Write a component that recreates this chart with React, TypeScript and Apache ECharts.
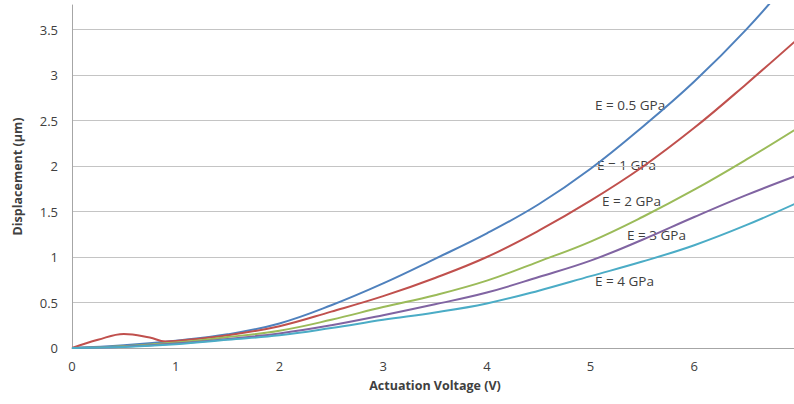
import React, { useEffect, useRef } from "react";
import * as echarts from "echarts";

const voltage = [0, 0.5, 1, 1.5, 2, 2.5, 3, 3.5, 4, 4.5, 5, 5.5, 6, 6.5, 7];
const redVoltage = [0, 0.25, 0.5, 0.75, 0.9, 1, 1.5, 2, 2.5, 3, 3.5, 4, 4.5, 5, 5.5, 6, 6.5, 7];

const e05 = [0, 0.03, 0.08, 0.15, 0.27, 0.47, 0.71, 0.98, 1.26, 1.58, 1.97, 2.43, 2.93, 3.5, 4.15];
const e1 = [0, 0.09, 0.155, 0.115, 0.072, 0.077, 0.14, 0.24, 0.4, 0.57, 0.77, 1.0, 1.29, 1.62, 1.99, 2.42, 2.9, 3.4];
const e2 = [0, 0.02, 0.06, 0.12, 0.19, 0.31, 0.45, 0.58, 0.74, 0.95, 1.17, 1.44, 1.74, 2.07, 2.42];
const e3 = [0, 0.015, 0.05, 0.1, 0.16, 0.25, 0.36, 0.48, 0.61, 0.78, 0.96, 1.19, 1.44, 1.68, 1.9];
const e4 = [0, 0.01, 0.04, 0.09, 0.14, 0.22, 0.31, 0.39, 0.49, 0.63, 0.79, 0.95, 1.13, 1.35, 1.6];

const yTicks = [0, 0.5, 1, 1.5, 2, 2.5, 3, 3.5];
const seriesNames = ["E = 0.5 GPa", "E = 1 GPa", "E = 2 GPa", "E = 3 GPa", "E = 4 GPa"];
const colors = ["#4F81BD", "#C0504D", "#9BBB59", "#8064A2", "#4BACC6"];

const pair = (xs: number[], ys: number[]) => xs.map((x, i) => [x, ys[i]]);

export default function App() {
  const ref = useRef<HTMLDivElement>(null);
  useEffect(() => {
    document.body.style.margin = "0";
    const chart = echarts.init(ref.current!, null, { renderer: "svg" });
    const font = "'Open Sans', 'Liberation Sans', sans-serif";
    const seriesData = [
      pair(voltage, e05),
      pair(redVoltage, e1),
      pair(voltage, e2),
      pair(voltage, e3),
      pair(voltage, e4),
    ];
    const labelPos = [
      [595, 98],
      [597, 158],
      [602, 194],
      [627, 228],
      [595, 274],
    ];
    chart.setOption({
      animation: false,
      backgroundColor: "#ffffff",
      grid: { left: 72, right: -4, top: 5, bottom: 56, outerBoundsMode: "none", containLabel: false },
      xAxis: {
        type: "value",
        min: 0,
        max: 7,
        interval: 1,
        name: "Actuation Voltage (V)",
        nameLocation: "middle",
        nameGap: 31,
        nameTextStyle: { fontFamily: font, fontSize: 12.5, fontWeight: "bold", color: "#404040" },
        axisLine: { show: true, lineStyle: { color: "#a6a6a6", width: 1 } },
        axisTick: { show: false },
        splitLine: { show: false },
        axisLabel: { fontFamily: font, fontSize: 13, color: "#404040", margin: 11, hideOverlap: false },
      },
      yAxis: {
        type: "value",
        min: 0,
        max: 3.77,
        name: "Displacement (µm)",
        nameLocation: "middle",
        nameGap: 48,
        nameTextStyle: { fontFamily: font, fontSize: 12.5, fontWeight: "bold", color: "#404040" },
        axisLine: { show: true, lineStyle: { color: "#a6a6a6", width: 1 } },
        axisTick: { show: false, customValues: yTicks },
        splitLine: { show: true, lineStyle: { color: "#c4c4c4", width: 1 } },
        axisLabel: {
          fontFamily: font,
          fontSize: 13,
          color: "#404040",
          margin: 14,
          customValues: yTicks,
        },
      },
      series: seriesData.map((d, i) => ({
        name: seriesNames[i],
        type: "line",
        data: d,
        smooth: 0.4,
        symbol: "none",
        lineStyle: { color: colors[i], width: 2 },
        itemStyle: { color: colors[i] },
      })),
      graphic: seriesNames.map((n, i) => ({
        type: "text",
        left: labelPos[i][0],
        top: labelPos[i][1],
        style: { text: n, fontFamily: font, fontSize: 13.5, fill: "#404040" },
      })),
    });
    return () => chart.dispose();
  }, []);
  return <div ref={ref} style={{ width: 794, height: 404 }} />;
}
